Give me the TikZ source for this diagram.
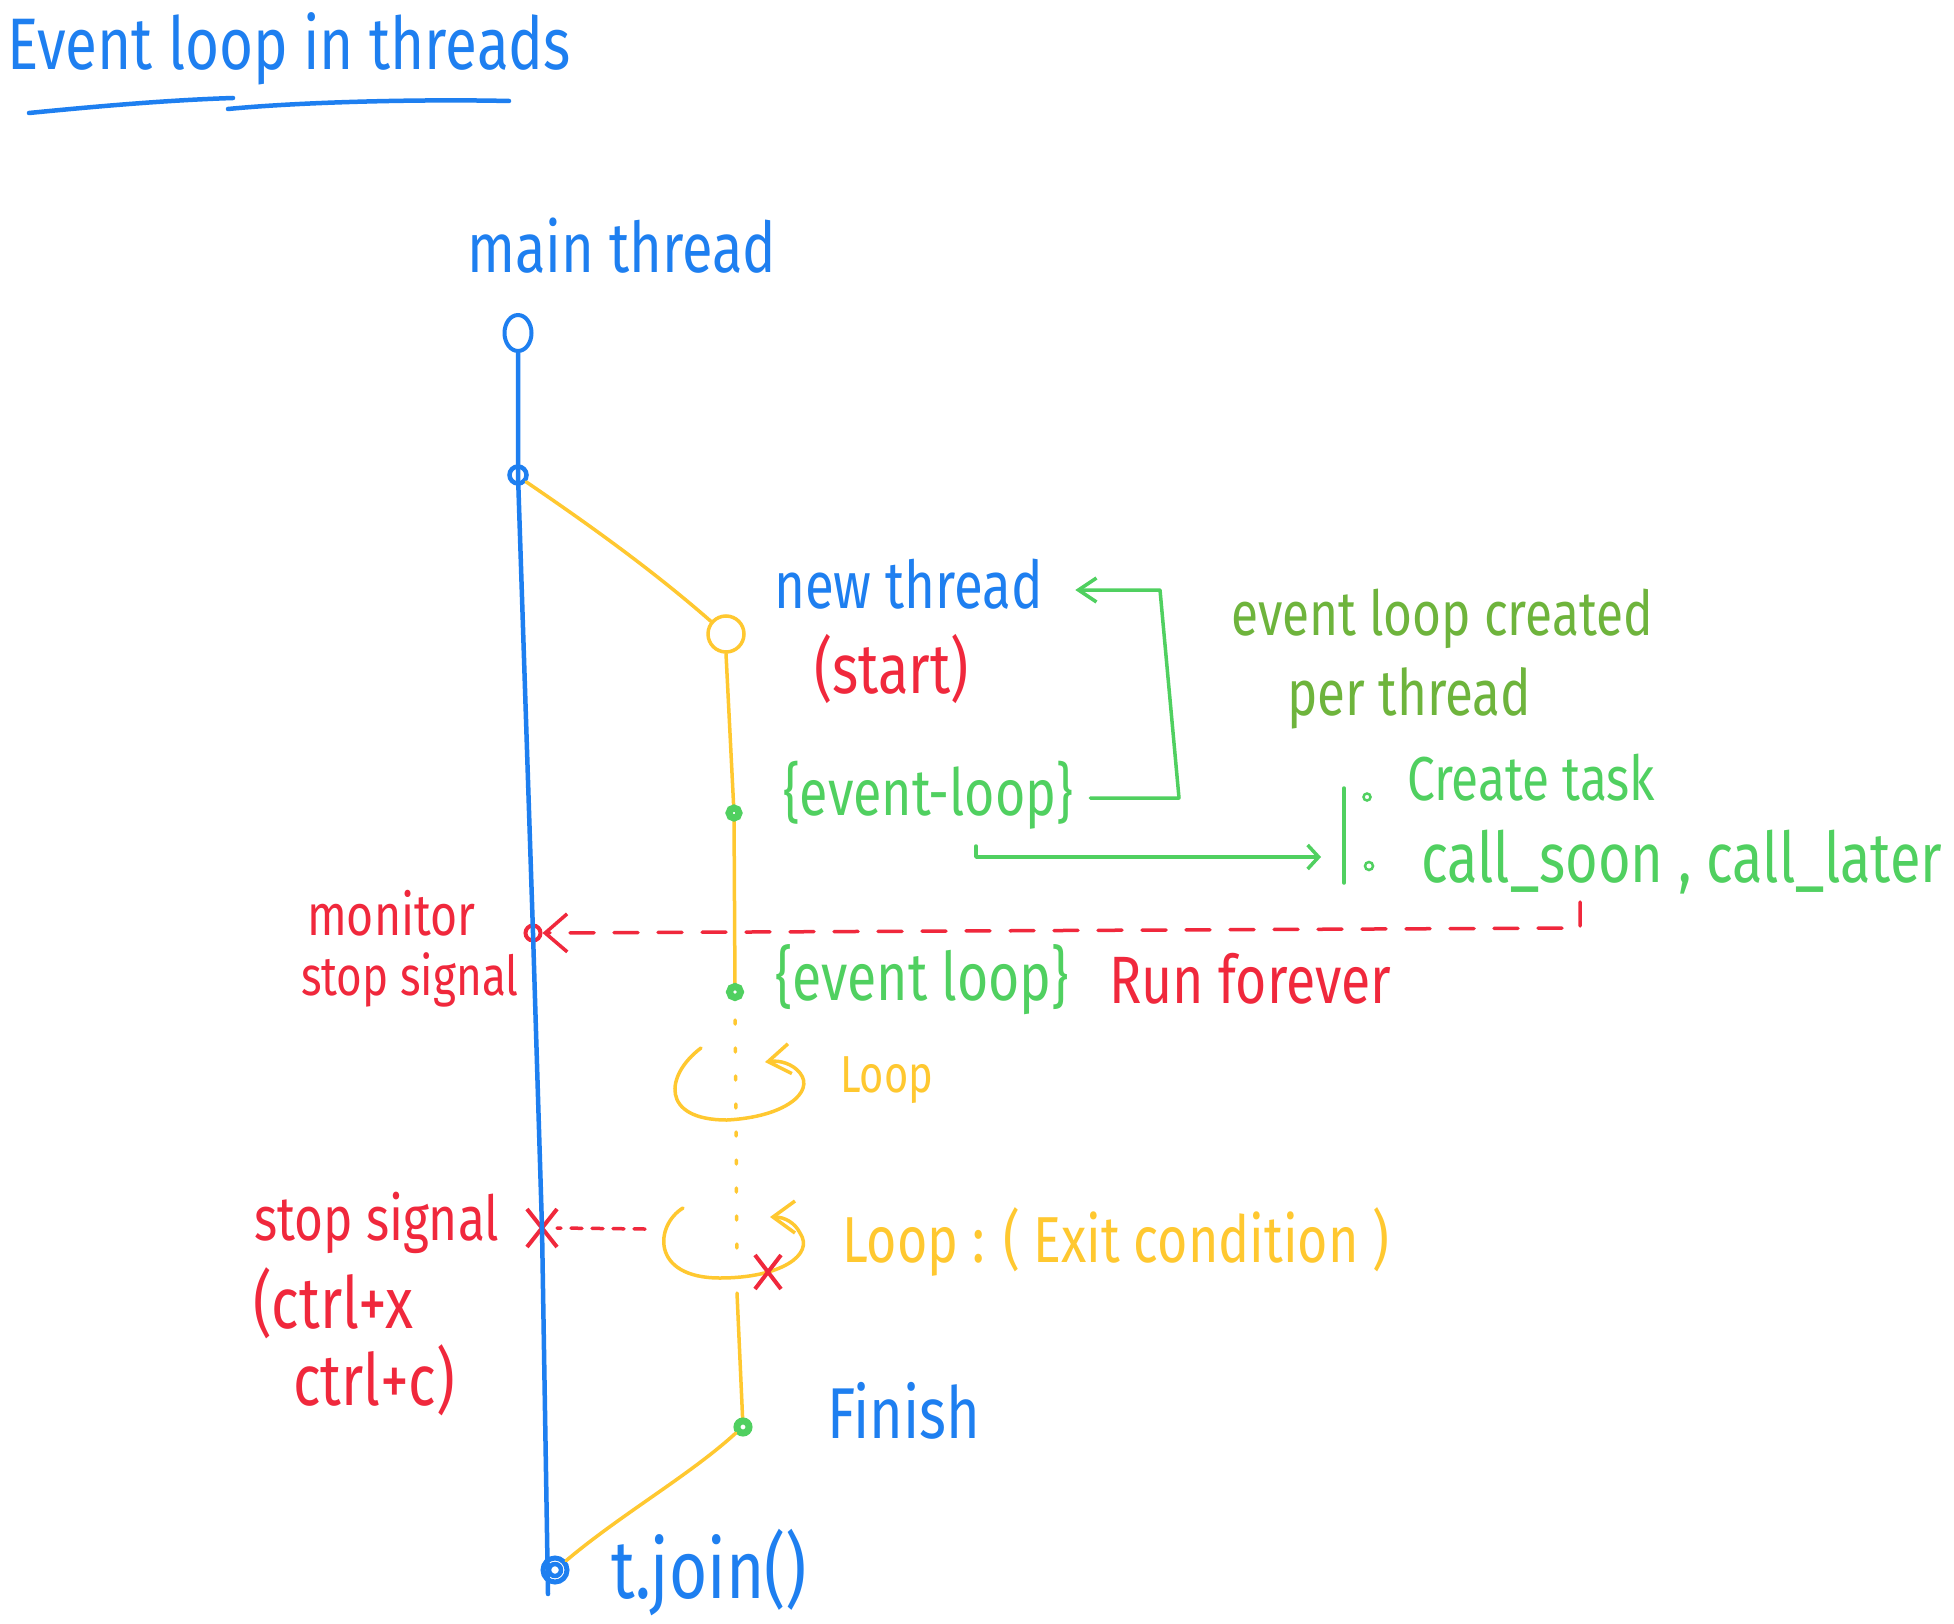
\documentclass[tikz,border=0pt]{standalone}
\usepackage{fontspec}
\usetikzlibrary{arrows.meta,shapes.geometric,shapes.misc}
\newfontfamily\hand[FakeStretch=0.8]{Fira Sans}
\newcommand{\hfs}[1]{\hand\fontsize{#1}{#1}\selectfont}
\definecolor{cblue}{HTML}{1E7FF0}
\definecolor{cyellow}{HTML}{FFC830}
\definecolor{cgreen}{HTML}{50D060}
\definecolor{cdkgreen}{HTML}{6EB43C}
\definecolor{cred}{HTML}{F0283C}
\tikzset{
  lbl/.style={inner sep=0pt, anchor=base west},
  bl/.style={draw=cblue, line width=4.5pt, line cap=round, line join=round},
  yl/.style={draw=cyellow, line width=3.5pt, line cap=round, line join=round},
  gl/.style={draw=cgreen, line width=3.5pt, line cap=round, line join=round},
  rl/.style={draw=cred, line width=3.5pt, line cap=round, line join=round},
  ydots/.style={yl, dash pattern=on 4pt off 24pt},
  rdash/.style={rl, dash pattern=on 24pt off 20pt},
  rdashshort/.style={rl, dash pattern=on 11pt off 10pt},
  gdot/.style={circle, draw=cgreen, fill=white, line width=7pt, inner sep=0pt, minimum size=10pt},
  rcross/.style={cross out, draw=cred, line width=4pt, inner sep=0pt},
}
\begin{document}
\begin{tikzpicture}[x=1pt,y=-1pt]
\fill[white] (0,0) rectangle (1954,1624);
% title
\node[lbl, text=cblue, font=\hfs{73}] (title) at (7,70) {Event loop in threads};
\draw[bl] (29,113) .. controls (100,106) and (170,100) .. (233,98);
\draw[bl] (228,109) .. controls (300,102) and (420,99) .. (509,101);
% main thread
\node[lbl, text=cblue, font=\hfs{70}] (mt) at (467,272) {main thread};
\node[ellipse, draw=cblue, line width=4pt, minimum width=27pt, minimum height=36pt, inner sep=0pt] (c0) at (518,333) {};
\node[circle, draw=cblue, line width=4.5pt, minimum size=17pt, inner sep=0pt] (b1) at (518,475) {};
\node[circle, draw=cred, line width=4pt, minimum size=15pt, inner sep=0pt] (mon) at (533,933) {};
\node[rcross, minimum width=26pt, minimum height=34pt] (ss) at (542,1228) {};
\node[circle, draw=cblue, line width=5pt, minimum size=24pt, inner sep=0pt] (jn) at (555,1570) {};
\draw[bl] (jn.center) circle (6pt);
\coordinate (jend) at (548,1594);
\draw[bl] (c0.south) -- (b1.center) -- (mon.center) -- (ss.center) -- (jend);
% new thread
\node[circle, draw=cyellow, line width=3.5pt, minimum size=36pt, inner sep=0pt] (nt) at (726,634) {};
\draw[yl] (b1.-40) .. controls (585,522) and (650,568) .. (nt.140);
\coordinate (ldot) at (737,1262);
\coordinate (lsol) at (737,1293);
\coordinate (e1p) at (734,813);
\coordinate (e2p) at (735,992);
\coordinate (finp) at (743,1427);
\draw[yl] (nt.south) -- (e1p) -- (e2p);
\draw[ydots] (e2p) -- (ldot);
\draw[yl] (lsol) -- (finp);
\node[gdot] (e1) at (e1p) {};
\node[gdot, minimum size=11pt] (e2) at (e2p) {};
\node[gdot, minimum size=12pt] (fin) at (finp) {};
\draw[yl] (fin.220) .. controls (690,1475) and (620,1515) .. (jn.40);
% texts
\node[lbl, text=cblue, font=\hfs{66}] (nth) at (774,608) {new thread};
\node[lbl, text=cred, font=\hfs{70}] (st) at (814,693) {(start)};
\node[lbl, text=cgreen, font=\hfs{65}] (el1) at (783,815) {\{event-loop\}};
\node[lbl, text=cdkgreen, font=\hfs{62}] (elc) at (1231,635) {event loop created};
\node[lbl, text=cdkgreen, font=\hfs{64}] (pt) at (1287,715) {per thread};
\node[lbl, text=cgreen, font=\hfs{62}] (ct) at (1407,800) {Create task};
\node[lbl, text=cgreen, font=\hfs{70}] (cs) at (1421,882) {call\_soon , call\_later};
\node[lbl, text=cred, font=\hfs{58}] (mo) at (307,935) {monitor};
\node[lbl, text=cred, font=\hfs{55}] (sg1) at (301,995) {stop signal};
\node[lbl, text=cgreen, font=\hfs{67}] (el2) at (775,1000) {\{event loop\}};
\node[lbl, text=cred, font=\hfs{67}] (rf) at (1109,1003) {Run forever};
\node[lbl, text=cyellow, font=\hfs{52}] (lp) at (840,1092) {Loop};
\node[lbl, text=cyellow, font=\hfs{65}] (lx) at (842,1262) {Loop : ( Exit condition )};
\node[lbl, text=cred, font=\hfs{62}] (sg2) at (254,1240) {stop signal};
\node[lbl, text=cred, font=\hfs{72}] (c1) at (253,1328) {(ctrl+x};
\node[lbl, text=cred, font=\hfs{72}] (c2) at (293,1405) {ctrl+c)};
\node[lbl, text=cblue, font=\hfs{72}] (fn) at (827,1438) {Finish};
\node[lbl, text=cblue, font=\hfs{82}] (tj) at (611,1598) {t.join()};
% green arrow back to new thread
\coordinate (a1c) at (1179,798);
\coordinate (a1t) at (1160,590);
\draw[gl, -{Straight Barb[length=18pt,width=24pt]}] ([xshift=17pt]el1.east |- a1c) -- (a1c) -- (a1t) -- ([xshift=32pt]nth.east |- a1t);
% bracket and bullets
\draw[gl] (1344,788) -- (1344,883);
\node[circle, draw=cgreen, line width=2.5pt, minimum size=7pt, inner sep=0pt] (bu1) at (1367,797) {};
\node[circle, draw=cgreen, line width=2.5pt, minimum size=8pt, inner sep=0pt] (bu2) at (1369,866) {};
\coordinate (a2s) at (976,846);
\coordinate (brk) at (1321,857);
\draw[gl, -{Straight Barb[length=11pt,width=24pt]}] (a2s) |- (brk);
% red dashed monitor line
\coordinate (rtick) at (1580,902);
\draw[rdash, -{Straight Barb[length=22pt,width=38pt]}] (rtick) -- (1580,928) -- (mon.east);
% loops
\draw[yl, -{Straight Barb[length=22pt,width=30pt]}] (701,1048) .. controls (665,1075) and (660,1120) .. (727,1120) .. controls (785,1117) and (815,1092) .. (800,1073) .. controls (793,1064) and (780,1060) .. (765,1062);
\draw[yl, -{Straight Barb[length=22pt,width=32pt]}] (683,1208) .. controls (655,1225) and (650,1278) .. (720,1278) .. controls (780,1278) and (815,1255) .. (800,1233) .. controls (795,1223) and (785,1217) .. (770,1217);
\node[rcross, minimum width=22pt, minimum height=30pt] (x2) at (768,1272) {};
\coordinate (l2w) at (645,1229);
\draw[rdashshort] (l2w) -- (ss.east);
\end{tikzpicture}
\end{document}
